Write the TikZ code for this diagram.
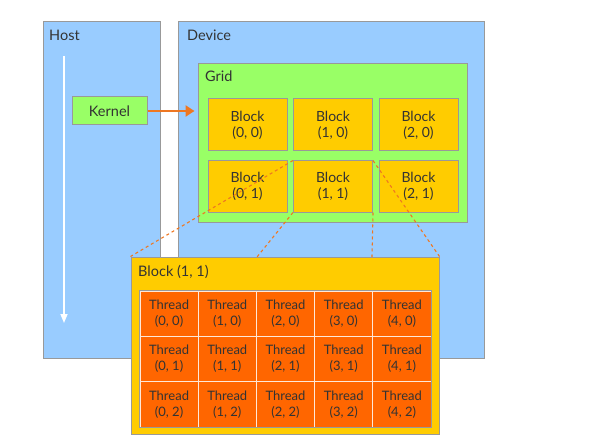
\documentclass[tikz,border=0pt]{standalone}
\usepackage{fontspec}
\setmainfont{Lato}
\usetikzlibrary{arrows.meta}
\definecolor{hostblue}{HTML}{99CCFF}
\definecolor{gridgreen}{HTML}{99FF66}
\definecolor{blockyellow}{HTML}{FFCC00}
\definecolor{threadorange}{HTML}{FF6600}
\definecolor{edgegray}{HTML}{999999}
\definecolor{txt}{HTML}{333333}
\definecolor{arroworange}{HTML}{EE7722}
\tikzset{
  box/.style={draw=edgegray, line width=1pt, rectangle, inner sep=0pt, text=txt},
  hostbox/.style={box, fill=hostblue},
  gridbox/.style={box, fill=gridgreen},
  blockbox/.style={box, fill=blockyellow, minimum width=79pt, minimum height=52pt, align=center, font=\fontsize{14}{16}\selectfont},
  threadbox/.style={draw=white!85!threadorange, line width=0.8pt, rectangle, fill=threadorange, text=txt, inner sep=0pt, minimum width=58.2pt, minimum height=45.33pt, align=center, font=\fontsize{13}{16}\selectfont},
  lbl/.style={text=txt, anchor=west, inner sep=0pt, font=\fontsize{14.5}{16}\selectfont},
  zoomline/.style={draw=arroworange, line width=1.1pt, dash pattern=on 3pt off 3pt},
}
\begin{document}
\begin{tikzpicture}[x=1pt,y=-1pt]
\useasboundingbox (0,0) rectangle (597,441);
% Host and device
\node[hostbox, minimum width=117pt, minimum height=336pt] (host) at (101.5,190) {};
\node[lbl] (hostlbl) at (49,35) {Host};
\node[hostbox, minimum width=306pt, minimum height=336pt] (device) at (331,190) {};
\node[lbl] (devlbl) at (187,35) {Device};
% Grid
\node[gridbox, minimum width=269pt, minimum height=158pt] (grid) at (332.5,143) {};
\node[lbl] (gridlbl) at (205,76) {Grid};
\node[blockbox] (b00) at (247.5,125) {Block\\(0, 0)};
\node[blockbox] (b10) at (333,125) {Block\\(1, 0)};
\node[blockbox] (b20) at (418.5,125) {Block\\(2, 0)};
\node[blockbox, minimum height=51pt] (b01) at (247.5,186.5) {Block\\(0, 1)};
\node[blockbox, minimum height=51pt] (b11) at (333,186.5) {Block\\(1, 1)};
\node[blockbox, minimum height=51pt] (b21) at (418.5,186.5) {Block\\(2, 1)};
% Kernel
\node[gridbox, minimum width=75pt, minimum height=28pt, font=\fontsize{14.5}{16}\selectfont] (kernel) at (109.5,111) {Kernel};
\draw[arroworange, line width=2.5pt, -{Triangle[length=9pt,width=11pt]}, shorten >=3pt] (kernel.east) -- (grid.west |- kernel.east);
% Host timeline
\coordinate (tstart) at (64,56);
\coordinate (tend) at (64,323);
\draw[white, line width=1.5pt, -{Triangle[length=9pt,width=7pt]}] (tstart) -- (tend);
% Big block
\node[box, fill=blockyellow, minimum width=308pt, minimum height=177pt] (big) at (285,345.5) {};
\coordinate (bigA) at (257,257);
\coordinate (bigB) at (372,257);
\draw[zoomline] (b11.north west) -- (big.north west);
\draw[zoomline] (b11.south west) -- (bigA);
\draw[zoomline] (b11.south east) -- (bigB);
\draw[zoomline] (b11.north east) -- (big.north east);
\node[lbl] (biglbl) at (138,272) {Block (1, 1)};
\foreach \i in {0,...,4}{
  \foreach \j in {0,1,2}{
    \node[threadbox] (t\i\j) at ({140+29.1+58.2*\i},{291+22.67+45.33*\j}) {Thread\\(\i, \j)};
  }
}
\draw[edgegray, line width=1pt] (t00.north west) rectangle (t42.south east);
\end{tikzpicture}
\end{document}
